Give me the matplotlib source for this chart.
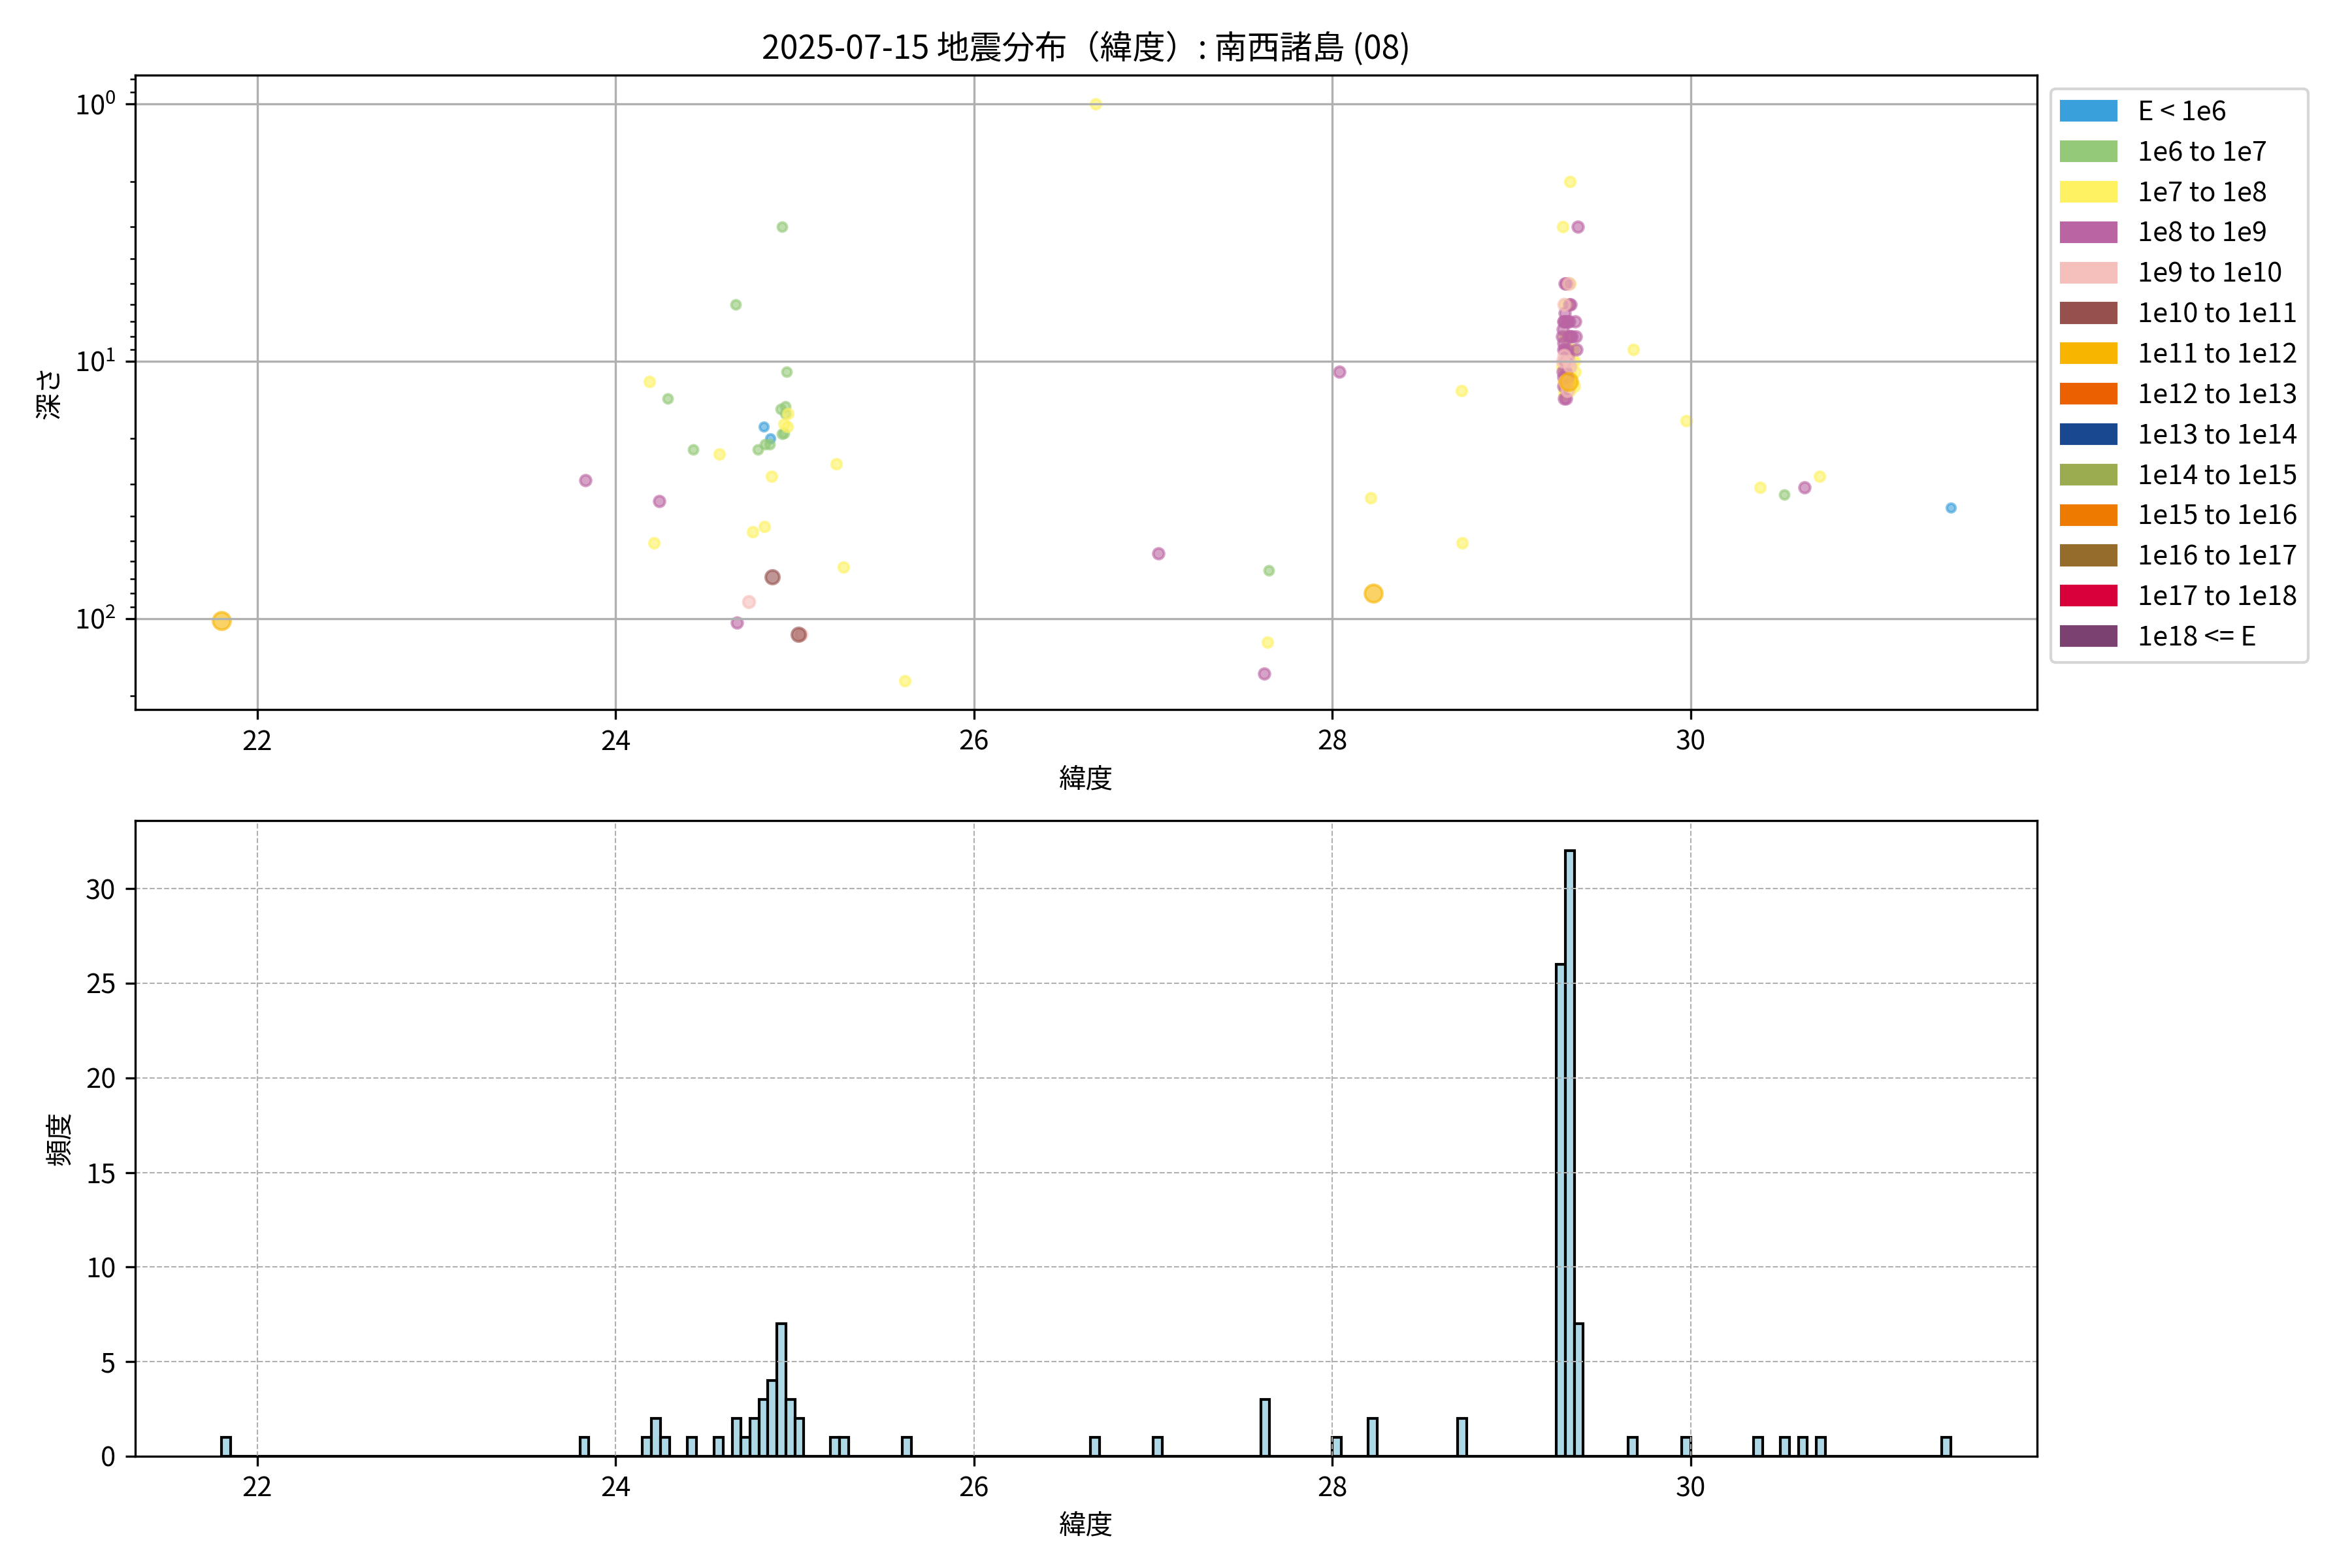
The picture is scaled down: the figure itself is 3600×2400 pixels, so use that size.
import numpy as np
import matplotlib
matplotlib.use("Agg")
import matplotlib.pyplot as plt
from matplotlib.patches import Patch

plt.rcParams['font.family'] = ['Noto Sans CJK JP', 'DejaVu Sans']
plt.rcParams['mathtext.fontset'] = 'custom'
plt.rcParams['mathtext.rm'] = 'Noto Sans CJK JP'
plt.rcParams['mathtext.it'] = 'Noto Sans CJK JP'
plt.rcParams['axes.unicode_minus'] = False

title = "2025-07-15 地震分布（緯度）: 南西諸島 (08)"

class_labels = ["E < 1e6", "1e6 to 1e7", "1e7 to 1e8", "1e8 to 1e9", "1e9 to 1e10",
                "1e10 to 1e11", "1e11 to 1e12", "1e12 to 1e13", "1e13 to 1e14",
                "1e14 to 1e15", "1e15 to 1e16", "1e16 to 1e17", "1e17 to 1e18", "1e18 <= E"]
class_colors = ["#3aa0db", "#93c977", "#fef263", "#bb64a3", "#f5bfbb",
                "#96514d", "#f8b500", "#eb6101", "#1a4890",
                "#9bab50", "#ef7a00", "#956c2c", "#d8003a", "#7a4171"]
class_sizes = [10, 11, 13.5, 15.5, 18, 25, 41, 55, 70, 85, 100, 115, 130, 145]

# events outside the main cluster: latitude, depth (km), energy class
lat_a = [21.80, 23.83, 24.19, 24.215, 24.242, 24.29, 24.434, 24.579, 24.67, 24.678,
         24.742, 24.766, 24.795, 24.825, 24.83, 24.835, 24.858, 24.864, 24.869, 24.872,
         24.92, 24.929, 24.93, 24.939, 24.94, 24.945, 24.947, 24.955, 24.957, 24.96,
         25.02, 25.035, 25.23, 25.272, 25.615, 26.68, 27.03, 27.62, 27.638, 27.645,
         28.04, 28.213, 28.23, 28.719, 28.723, 29.681, 29.975, 30.385, 30.522, 30.635,
         30.719, 31.45]
dep_a = [102, 29, 12, 51, 35, 14, 22, 23, 6, 104,
         86, 46, 22, 18, 44, 21, 21, 20, 28, 69,
         15.3, 3.0, 19.2, 19, 17.5, 15, 16, 11, 18, 16,
         115, 115, 25, 63, 175, 1.0, 56, 164, 124, 65,
         11, 34, 80, 13, 51, 9, 17, 31, 33, 31,
         28, 37]
cls_a = [6, 3, 2, 2, 3, 1, 1, 2, 1, 3,
         4, 2, 1, 0, 2, 1, 1, 0, 2, 5,
         1, 1, 1, 1, 2, 1, 1, 1, 2, 2,
         5, 4, 2, 2, 2, 2, 3, 3, 2, 1,
         3, 2, 6, 2, 2, 2, 2, 2, 1, 3,
         2, 0]

# events in the cluster near 29.3N
lat_b = [29.284, 29.292, 29.296, 29.293, 29.288, 29.297, 29.287, 29.286, 29.295, 29.294,
         29.292, 29.298, 29.290, 29.296, 29.289, 29.283, 29.291, 29.297, 29.285, 29.294,
         29.288, 29.293, 29.298, 29.281, 29.295, 29.290,
         29.324, 29.305, 29.310, 29.320, 29.327, 29.318, 29.323, 29.330, 29.305, 29.315,
         29.322, 29.304, 29.318, 29.330, 29.338, 29.310, 29.322, 29.305, 29.320, 29.338,
         29.305, 29.330, 29.318, 29.310, 29.325, 29.310, 29.315, 29.312, 29.326, 29.334,
         29.302, 29.345,
         29.370, 29.355, 29.358, 29.352, 29.356, 29.362, 29.353]
dep_b = [3.0, 6.0, 6.0, 7.0, 9.0, 9.0, 10.0, 11.0, 11.0, 13.0,
         14.0, 8.0, 7.0, 12.0, 8.5, 10.5, 12.5, 5.0, 7.5, 9.5,
         11.5, 13.5, 10.0, 8.0, 6.5, 12.0,
         2.0, 5.0, 5.0, 5.0, 5.0, 6.0, 6.0, 6.0, 7.0, 7.0,
         7.0, 8.0, 8.0, 8.0, 8.0, 9.0, 9.0, 10.0, 10.0, 10.0,
         11.0, 11.0, 12.0, 12.0, 13.0, 13.0, 9.5, 11.5, 10.5, 12.0,
         14.0, 9.0,
         3.0, 7.0, 8.0, 10.0, 11.0, 9.0, 12.5]
cls_b = [2, 4, 2, 3, 3, 3, 4, 3, 2, 2,
         3, 2, 3, 4, 3, 2, 3, 3, 3, 4,
         3, 2, 3, 3, 3, 2,
         2, 3, 2, 4, 2, 2, 3, 3, 3, 3,
         3, 2, 3, 3, 3, 3, 2, 2, 4, 2,
         3, 2, 6, 4, 2, 4, 3, 3, 4, 2,
         3, 2,
         3, 3, 3, 2, 2, 3, 2]

lat = np.array(lat_a + lat_b)
dep = np.array(dep_a + dep_b)
cls = np.array(cls_a + cls_b)

fig = plt.figure(figsize=(12, 8), dpi=300)
ax1 = fig.add_axes([0.0574, 0.5473, 0.8087, 0.4048])
ax2 = fig.add_axes([0.0574, 0.0713, 0.8087, 0.4054])

for k in range(len(class_labels)):
    m = cls == k
    if m.any():
        ax1.scatter(lat[m], dep[m], s=class_sizes[k], c=class_colors[k], alpha=0.6)
ax1.set_yscale('log')
ax1.invert_yaxis()
ax1.grid(True)
ax1.set_xlabel("緯度")
ax1.set_ylabel("深さ")
ax1.set_title(title)
handles = [Patch(color=c, label=l) for c, l in zip(class_colors, class_labels)]
ax1.legend(handles=handles, loc='upper left', bbox_to_anchor=(1, 1), fontsize=10)

ax2.hist(lat, bins=193, color='lightblue', edgecolor='black')
ax2.grid(True, linestyle='--', linewidth=0.5)
ax2.set_xlabel("緯度")
ax2.set_ylabel("頻度")
ax2.set_xlim(ax1.get_xlim())

fig.savefig("out.png", dpi=300)
